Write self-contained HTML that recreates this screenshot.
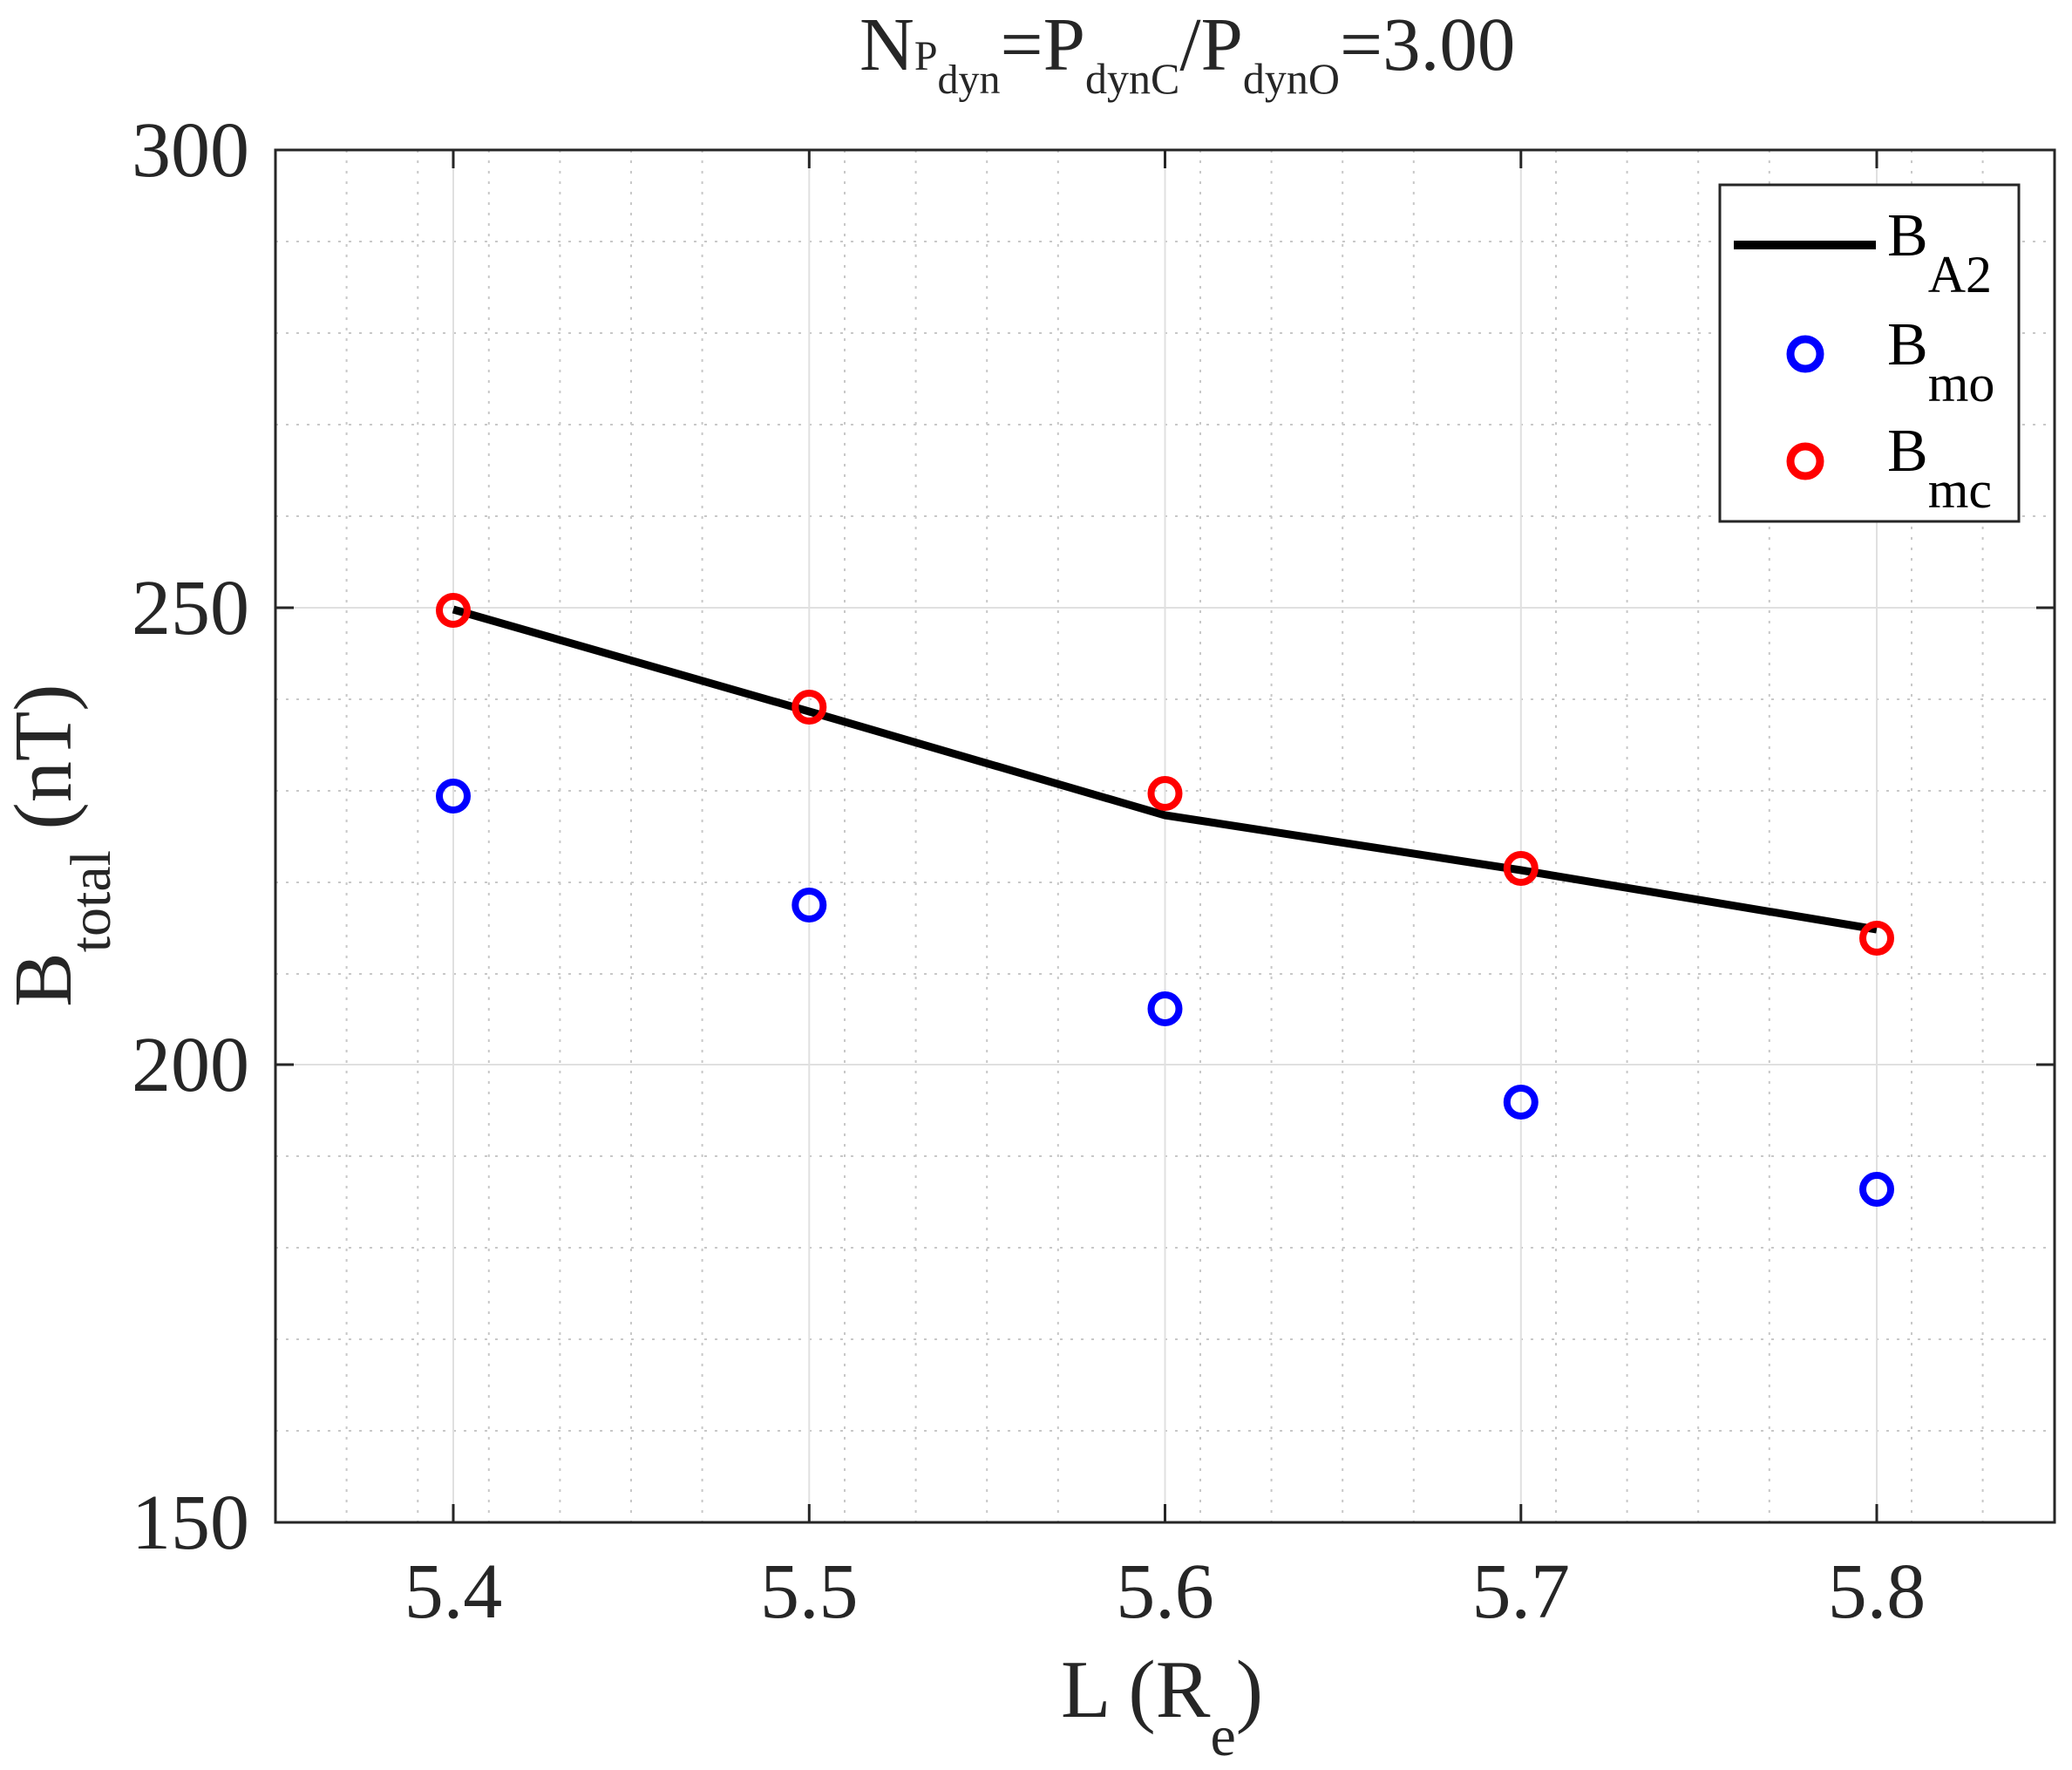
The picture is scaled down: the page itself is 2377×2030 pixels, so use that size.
<!DOCTYPE html>
<html><head><meta charset="utf-8"><style>html,body{margin:0;padding:0;background:#fff}svg{display:block}</style></head>
<body>
<svg width="2377" height="2030" viewBox="0 0 2377 2030" xmlns="http://www.w3.org/2000/svg" font-family="'Liberation Serif', serif" fill="#262626">
<rect width="2377" height="2030" fill="#fff"/>
<g stroke="#c8c8c8" stroke-width="2" stroke-dasharray="3,9">
<line x1="397.6" y1="172" x2="397.6" y2="1746"/><line x1="479.3" y1="172" x2="479.3" y2="1746"/>
<line x1="560.8" y1="172" x2="560.8" y2="1746"/><line x1="642.4" y1="172" x2="642.4" y2="1746"/><line x1="724" y1="172" x2="724" y2="1746"/><line x1="805.6" y1="172" x2="805.6" y2="1746"/>
<line x1="969" y1="172" x2="969" y2="1746"/><line x1="1050.6" y1="172" x2="1050.6" y2="1746"/><line x1="1132.2" y1="172" x2="1132.2" y2="1746"/><line x1="1213.8" y1="172" x2="1213.8" y2="1746"/>
<line x1="1377" y1="172" x2="1377" y2="1746"/><line x1="1458.6" y1="172" x2="1458.6" y2="1746"/><line x1="1540.2" y1="172" x2="1540.2" y2="1746"/><line x1="1621.8" y1="172" x2="1621.8" y2="1746"/>
<line x1="1785" y1="172" x2="1785" y2="1746"/><line x1="1866.6" y1="172" x2="1866.6" y2="1746"/><line x1="1948.2" y1="172" x2="1948.2" y2="1746"/><line x1="2029.8" y1="172" x2="2029.8" y2="1746"/>
<line x1="2193" y1="172" x2="2193" y2="1746"/><line x1="2274.6" y1="172" x2="2274.6" y2="1746"/>
<line x1="316" y1="277" x2="2357" y2="277"/><line x1="316" y1="382" x2="2357" y2="382"/><line x1="316" y1="487" x2="2357" y2="487"/><line x1="316" y1="592" x2="2357" y2="592"/>
<line x1="316" y1="802" x2="2357" y2="802"/><line x1="316" y1="907" x2="2357" y2="907"/><line x1="316" y1="1012" x2="2357" y2="1012"/><line x1="316" y1="1117" x2="2357" y2="1117"/>
<line x1="316" y1="1326" x2="2357" y2="1326"/><line x1="316" y1="1431" x2="2357" y2="1431"/><line x1="316" y1="1536" x2="2357" y2="1536"/><line x1="316" y1="1641" x2="2357" y2="1641"/>
</g>
<g stroke="#e0e0e0" stroke-width="2">
<line x1="520" y1="172" x2="520" y2="1746"/><line x1="928.3" y1="172" x2="928.3" y2="1746"/><line x1="1336.5" y1="172" x2="1336.5" y2="1746"/><line x1="1744.8" y1="172" x2="1744.8" y2="1746"/><line x1="2153" y1="172" x2="2153" y2="1746"/>
<line x1="316" y1="697" x2="2357" y2="697"/><line x1="316" y1="1221" x2="2357" y2="1221"/>
</g>
<rect x="316" y="172" width="2041" height="1574" fill="none" stroke="#262626" stroke-width="3"/>
<g stroke="#262626" stroke-width="3">
<line x1="520" y1="1746" x2="520" y2="1725"/><line x1="928.3" y1="1746" x2="928.3" y2="1725"/><line x1="1336.5" y1="1746" x2="1336.5" y2="1725"/><line x1="1744.8" y1="1746" x2="1744.8" y2="1725"/><line x1="2153" y1="1746" x2="2153" y2="1725"/>
<line x1="520" y1="172" x2="520" y2="193"/><line x1="928.3" y1="172" x2="928.3" y2="193"/><line x1="1336.5" y1="172" x2="1336.5" y2="193"/><line x1="1744.8" y1="172" x2="1744.8" y2="193"/><line x1="2153" y1="172" x2="2153" y2="193"/>
<line x1="316" y1="697" x2="337" y2="697"/><line x1="316" y1="1221" x2="337" y2="1221"/>
<line x1="2357" y1="697" x2="2336" y2="697"/><line x1="2357" y1="1221" x2="2336" y2="1221"/>
</g>
<g font-size="90" text-anchor="end">
<text x="286" y="202">300</text><text x="286" y="727">250</text><text x="286" y="1251">200</text><text x="286" y="1776">150</text>
</g>
<g font-size="90" text-anchor="middle">
<text x="520" y="1855">5.4</text><text x="928.3" y="1855">5.5</text><text x="1336.5" y="1855">5.6</text><text x="1744.8" y="1855">5.7</text><text x="2153" y="1855">5.8</text>
</g>
<text x="1217" y="1969" font-size="94">L (R<tspan font-size="66" dy="44">e</tspan><tspan dy="-44">)</tspan></text>
<text transform="translate(81,1155) rotate(-90)" font-size="94">B<tspan font-size="66" dy="45">total</tspan><tspan dy="-45"> (nT)</tspan></text>
<text x="986" y="80" font-size="87">N<tspan font-size="48">P</tspan><tspan font-size="48" dy="27">dyn</tspan><tspan dy="-27">=P</tspan><tspan font-size="50" dy="27">dynC</tspan><tspan dy="-27">/P</tspan><tspan font-size="50" dy="27">dynO</tspan><tspan dy="-27">=3.00</tspan></text>
<polyline points="520,699 928.3,816 1336.5,935 1744.8,998 2153,1066" fill="none" stroke="#000" stroke-width="9" stroke-linejoin="round"/>
<g fill="none" stroke="#0000ff" stroke-width="8">
<circle cx="520" cy="913" r="16"/><circle cx="928.3" cy="1038" r="16"/><circle cx="1336.5" cy="1157" r="16"/><circle cx="1744.8" cy="1264" r="16"/><circle cx="2153" cy="1364" r="16"/>
</g>
<g fill="none" stroke="#ff0000" stroke-width="8">
<circle cx="520" cy="700" r="16"/><circle cx="928.3" cy="811" r="16"/><circle cx="1336.5" cy="910" r="16"/><circle cx="1744.8" cy="996" r="16"/><circle cx="2153" cy="1076" r="16"/>
</g>
<rect x="1973" y="212" width="343" height="386" fill="#fff" stroke="#262626" stroke-width="3"/>
<line x1="1989" y1="281" x2="2152" y2="281" stroke="#000" stroke-width="10"/>
<circle cx="2071" cy="406" r="17" fill="none" stroke="#0000ff" stroke-width="9"/>
<circle cx="2071" cy="529" r="17" fill="none" stroke="#ff0000" stroke-width="9"/>
<g font-size="70" fill="#000">
<text x="2165" y="293">B<tspan font-size="60" dy="42">A2</tspan></text>
<text x="2165" y="418">B<tspan font-size="60" dy="42">mo</tspan></text>
<text x="2165" y="540">B<tspan font-size="60" dy="42">mc</tspan></text>
</g>
</svg>
</body></html>
